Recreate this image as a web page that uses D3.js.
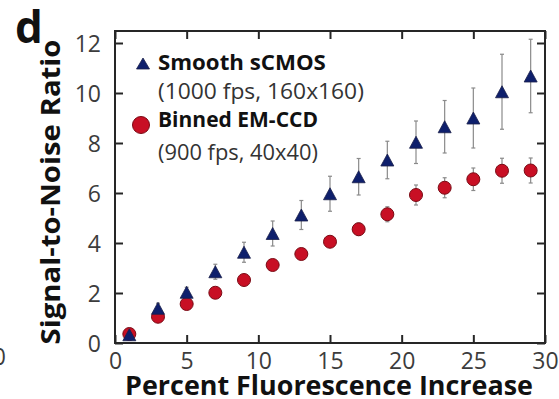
<!DOCTYPE html>
<html><head><meta charset="utf-8">
<script src="https://cdn.jsdelivr.net/npm/d3@7"></script>
<style>body{margin:0;background:#fff;} svg{display:block;}</style>
</head><body>
<svg id="c" width="559" height="399"></svg>
<script>
const xPercent = [1,3,5,7,9,11,13,15,17,19,21,23,25,27,29];
const snrSCMOS = [0.33,1.39,2.03,2.85,3.63,4.38,5.12,5.97,6.65,7.32,8.03,8.65,9.0,10.05,10.68];
const errSCMOS = [0.1,0.2,0.2,0.3,0.4,0.5,0.58,0.7,0.73,0.75,0.85,1.05,1.2,1.5,1.47];
const snrEMCCD = [0.36,1.05,1.56,2.01,2.52,3.12,3.56,4.05,4.55,5.15,5.92,6.21,6.55,6.89,6.9];
const errEMCCD = [0.05,0.08,0.08,0.1,0.1,0.15,0.2,0.2,0.25,0.3,0.4,0.4,0.45,0.5,0.5];
const xTicks = [0,5,10,15,20,25,30];
const yTicks = [0,2,4,6,8,10,12];
const legendLabels = [["Smooth sCMOS","(1000 fps, 160x160)"],["Binned EM-CCD","(900 fps, 40x40)"]];

const svg = d3.select("#c");
const L=115,R=545,T=31,B=343;
const x = d3.scaleLinear().domain([0,30]).range([L,R]);
const y = d3.scaleLinear().domain([0,12]).range([B,B-300]);
const FONT = "'Open Sans', 'DejaVu Sans', sans-serif";
const navy = "#0e1f6c", red = "#c80f24";

// text with given font size, squeezed horizontally to a target width
function scaledText(tx, ty, rot, fs, fw, targetW, anchor, fill, txt){
  const s = svg.append("text").attr("x",0).attr("y",0).attr("text-anchor",anchor)
    .attr("font-family",FONT).attr("font-weight",fw).attr("font-size",fs).attr("fill",fill).text(txt);
  const w = s.node().getComputedTextLength();
  s.attr("transform",`translate(${tx},${ty}) rotate(${rot}) scale(${(targetW/w).toFixed(4)},1)`);
  return s;
}

// frame
svg.append("rect").attr("x",L).attr("y",T).attr("width",R-L).attr("height",B-T)
  .attr("fill","none").attr("stroke","#262626").attr("stroke-width",2);

// axes with inward ticks
const gx = svg.append("g").attr("transform",`translate(0,${B})`)
  .call(d3.axisBottom(x).tickValues(xTicks).tickSizeInner(-8).tickSizeOuter(0).tickPadding(13));
const gxt = svg.append("g").attr("transform",`translate(0,${T})`)
  .call(d3.axisTop(x).tickValues(xTicks).tickSizeInner(-8).tickSizeOuter(0).tickFormat(""));
const gy = svg.append("g").attr("transform",`translate(${L},0)`)
  .call(d3.axisLeft(y).tickValues(yTicks).tickSizeInner(-8).tickSizeOuter(0).tickPadding(14));
const gyr = svg.append("g").attr("transform",`translate(${R},0)`)
  .call(d3.axisRight(y).tickValues(yTicks).tickSizeInner(-8).tickSizeOuter(0).tickFormat(""));
[gx,gxt,gy,gyr].forEach(g=>{
  g.select(".domain").remove();
  g.selectAll(".tick line").attr("stroke","#262626").attr("stroke-width",2);
});
gx.selectAll("text").attr("font-family",FONT).attr("font-size",23).attr("fill","#3c3c3c").attr("dy","0.55em");
gy.selectAll("text").attr("font-family",FONT).attr("font-size",23).attr("fill","#3c3c3c").attr("dy","0.36em");

// error bars
function errBars(vals, errs){
  const g = svg.append("g");
  xPercent.forEach((xv,i)=>{
    const cx = x(xv), y1 = y(vals[i]+errs[i]), y2 = y(vals[i]-errs[i]);
    g.append("line").attr("x1",cx).attr("x2",cx).attr("y1",y1).attr("y2",y2).attr("stroke","#8a8a8a").attr("stroke-width",1.2);
    [y1,y2].forEach(yy=>g.append("line").attr("x1",cx-2).attr("x2",cx+2).attr("y1",yy).attr("y2",yy).attr("stroke","#8a8a8a").attr("stroke-width",1.2));
  });
}
errBars(snrEMCCD, errEMCCD);
errBars(snrSCMOS, errSCMOS);

function tri(cx,cy,w,h){ return `M${cx},${cy-h/2}L${cx+w/2},${cy+h/2}L${cx-w/2},${cy+h/2}Z`; }

svg.append("g").selectAll("circle").data(snrEMCCD).join("circle")
  .attr("cx",(d,i)=>x(xPercent[i])).attr("cy",d=>y(d)).attr("r",6.5)
  .attr("fill",red).attr("stroke","#7a0a14").attr("stroke-width",1);
svg.append("g").selectAll("path").data(snrSCMOS).join("path")
  .attr("d",(d,i)=>tri(x(xPercent[i]),y(d),13,12))
  .attr("fill",navy).attr("stroke","#1b1f4a").attr("stroke-width",0.8);

// legend
svg.append("path").attr("d",tri(143,63.5,13,11)).attr("fill",navy).attr("stroke","#1b1f4a").attr("stroke-width",0.8);
svg.append("circle").attr("cx",141).attr("cy",125).attr("r",8.5).attr("fill",red).attr("stroke","#7a0a14").attr("stroke-width",1);
const lg = [
  [legendLabels[0][0],70,168,"bold"],
  [legendLabels[0][1],98.5,206,"normal"],
  [legendLabels[1][0],127,160,"bold"],
  [legendLabels[1][1],160,160,"normal"]];
lg.forEach(([t,by,w,fw])=>{
  scaledText(158, by, 0, fw==="bold"?21:22, fw, w, "start", fw==="bold"?"#111":"#333", t);
});

// axis titles
scaledText(329, 395, 0, 27.5, "bold", 408, "middle", "#111", "Percent Fluorescence Increase");
scaledText(60, 192, -90, 26, "bold", 305, "middle", "#111", "Signal-to-Noise Ratio");

// panel letter
svg.append("text").attr("x",15).attr("y",43).attr("font-family",FONT).attr("font-weight","bold")
  .attr("font-size",44).attr("fill","#111").text("d");
// clipped neighbour tick label
svg.append("text").attr("x",6).attr("y",357).attr("dy","0.36em").attr("text-anchor","end")
  .attr("font-family",FONT).attr("font-size",23).attr("fill","#3c3c3c").text("0");
</script>
</body></html>
